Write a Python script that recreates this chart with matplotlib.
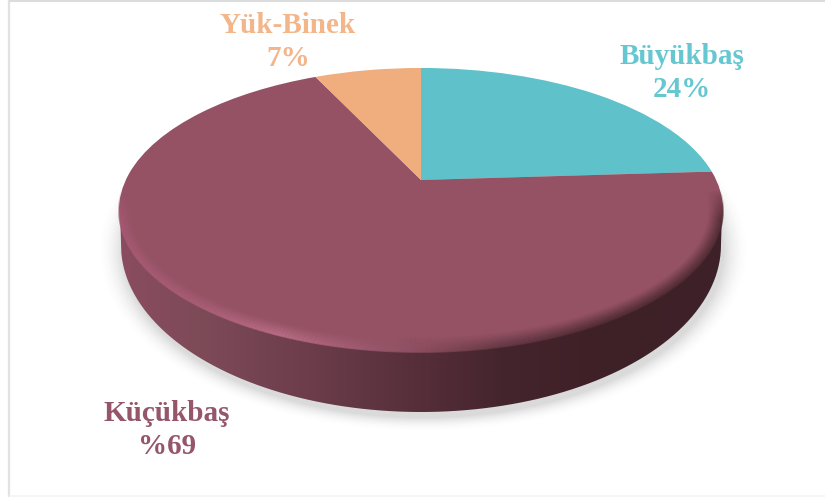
import numpy as np
import matplotlib
matplotlib.use("Agg")
import matplotlib.pyplot as plt
from matplotlib.transforms import Transform
from matplotlib.path import Path
from matplotlib.patches import PathPatch
from matplotlib.collections import LineCollection
from matplotlib.colors import to_rgb

categories = ["Büyükbaş", "Küçükbaş", "Yük-Binek"]
values = [24, 69, 7]
value_labels = ["24%", "%69", "7%"]
slice_colors = ["#5fc2cb", "#945264", "#f0ad7e"]
label_colors = ["#66c7d0", "#95566a", "#f3b58a"]
label_pos = [(682, 73), (167, 430), (288, 42)]

APEX = (421.0, 180.0)
C, B, A = 0.2113, 135.7, 295.2
FACE_C, FACE_RX, FACE_RY = (421.0, 210.0), 302.0, 142.0
BASE_C, BASE_RX, BASE_RY = (421.0, 245.0), 300.0, 167.0


class Tilt(Transform):
    """Projects the unit pie disc on to the tilted top face, in pixel-like data units."""
    input_dims = output_dims = 2

    def transform_non_affine(self, xy):
        xy = np.asarray(xy, float)
        d = 1 + C * xy[:, 1]
        return np.column_stack([APEX[0] + A * xy[:, 0] / d, APEX[1] - B * xy[:, 1] / d])

    def transform_path_non_affine(self, path):
        return Path(self.transform_non_affine(path.vertices), path.codes)


fig = plt.figure(figsize=(8.25, 4.97), dpi=100, facecolor="white")
ax = fig.add_axes([0, 0, 1, 1])

wedges, _ = ax.pie(values, colors=slice_colors, startangle=90, counterclock=False,
                   radius=1, center=(0, 0), wedgeprops=dict(linewidth=0))
tilt = Tilt()
for w in wedges:
    w.set_transform(tilt + ax.transData)
    w.set_zorder(3)
    w.set_antialiased(True)

# soft shadow
gx, gy = np.meshgrid(np.arange(0, 825), np.arange(0, 497))
dist = np.hypot((gx - 423.0) / 300.0, (gy - 250.0) / 167.0)
px = (dist - 1.0) * 225
shadow = np.zeros(gx.shape + (4,))
shadow[..., :3] = 0.55
shadow[..., 3] = 0.32 * np.clip(1 - px / 20.0, 0, 1) ** 2
ax.imshow(shadow, extent=(0, 825, 497, 0), zorder=1, interpolation="bilinear", aspect="auto")

# wall with horizontal shading
th = np.radians(np.linspace(180, 0, 200))
wall = np.column_stack([BASE_C[0] + BASE_RX * np.cos(th), BASE_C[1] + BASE_RY * np.sin(th)])
verts = np.vstack([[FACE_C[0] - FACE_RX + 1, FACE_C[1]], wall,
                   [FACE_C[0] + FACE_RX - 1, FACE_C[1]]])
wall_patch = PathPatch(Path(np.vstack([verts, verts[0]])), fc="none", ec="none", transform=ax.transData)
ax.add_patch(wall_patch)
xs = [120, 200, 300, 421, 500, 600, 723]
cs = ["#8a4c60", "#7d4a58", "#6e3e4c", "#552e3a", "#45252d", "#3f2027", "#3e2229"]
rgb = np.array([to_rgb(c) for c in cs])
grad_x = np.arange(825)
grad = np.stack([np.interp(grad_x, xs, rgb[:, i]) for i in range(3)], axis=1)[None, :, :]
im = ax.imshow(grad, extent=(0, 825, 497, 0), zorder=2, aspect="auto", interpolation="bilinear")
im.set_clip_path(wall_patch)

# rim bevel
ex = [120, 200, 280, 340, 421, 500, 600, 723]
ec = ["#a85a74", "#ab5f78", "#bd7089", "#a86078", "#8a4c5e", "#5e3540", "#4a2830", "#4a2830"]
erg = np.array([to_rgb(c) for c in ec])
th = np.radians(np.linspace(188, -8, 260))
for t in np.linspace(0, 1, 14):
    inset = 15 * t
    x = FACE_C[0] + (FACE_RX - inset) * np.cos(th)
    y = FACE_C[1] + (FACE_RY - inset) * np.sin(th)
    pts = np.column_stack([x, y])
    segs = np.stack([pts[:-1], pts[1:]], axis=1)
    mx = segs[:, :, 0].mean(axis=1)
    my = segs[:, :, 1].mean(axis=1)
    cols = np.stack([np.interp(mx, ex, erg[:, i]) for i in range(3)], axis=1)
    fade = np.clip((my - 190) / 30.0, 0, 1)
    alpha = (1 - t) ** 1.4 * fade * 0.8
    lc = LineCollection(segs, colors=np.column_stack([cols, alpha]), linewidths=1.3,
                        zorder=4, capstyle="butt")
    ax.add_collection(lc)

# labels
for name, val, col, (lx, ly) in zip(categories, value_labels, label_colors, label_pos):
    ax.text(lx, ly, f"{name}\n{val}", color=col, ha="center", va="center",
            family="Liberation Serif", fontweight="bold", fontsize=21,
            linespacing=1.24, zorder=6)

ax.set_aspect("auto")
ax.set_xlim(0, 825)
ax.set_ylim(497, 0)
ax.axis("off")

# frame
ax.plot([9, 9], [0, 497], color="#e2e2e2", lw=1.6, zorder=7, solid_capstyle="butt")
ax.plot([9, 825], [0.7, 0.7], color="#dcdcdc", lw=1.5, zorder=7, solid_capstyle="butt")
ax.plot([9, 825], [496.3, 496.3], color="#f4f4f4", lw=1.2, zorder=7, solid_capstyle="butt")

fig.savefig("out.png", dpi=100, facecolor="white")
